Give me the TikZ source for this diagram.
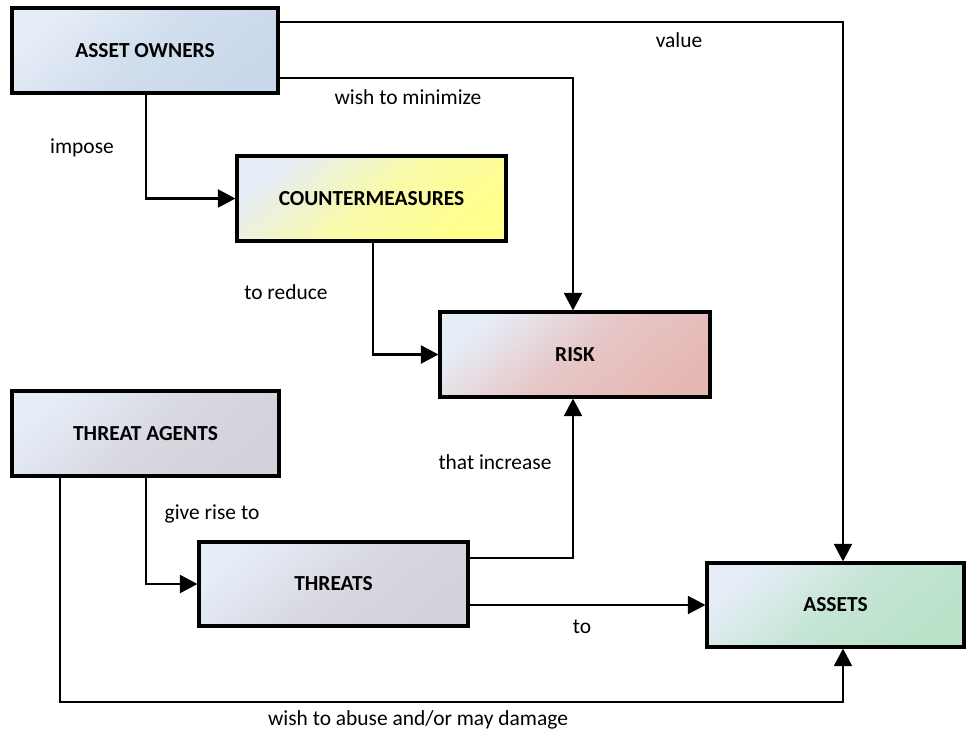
\documentclass[tikz,border=0pt]{standalone}
\usepackage{fontspec}
\setmainfont{Carlito}
\usetikzlibrary{arrows.meta}
\definecolor{tl}{HTML}{E6EDF7}
\definecolor{aoC}{HTML}{C9D8EA}
\definecolor{cmC}{HTML}{FFFF8C}
\definecolor{rkC}{HTML}{E6B8B4}
\definecolor{taC}{HTML}{D3D1DA}
\definecolor{asC}{HTML}{B9E2C8}
\tikzset{
  box/.style={draw=black, line width=1.8pt, minimum height=1.7cm, font=\fontsize{12.2}{14}\selectfont\bfseries},
  grad/.style={top color=tl, bottom color=#1, middle color=#1!72!tl, shading angle=40},
  lbl/.style={font=\fontsize{12.2}{14}\selectfont, inner sep=0pt},
  arr/.style={line width=1.2pt, -{Triangle[length=0.35cm,width=0.36cm]}}
}
\begin{document}
\begin{tikzpicture}[x=0.02cm,y=-0.02cm]
\useasboundingbox (0,0) rectangle (966,731);
\fill[white] (0,0) rectangle (966,731);
\node[box, grad=aoC, minimum width=5.32cm] (ao) at (145,50.5) {ASSET OWNERS};
\node[box, grad=cmC, minimum width=5.38cm] (cm) at (371.5,198.5) {COUNTERMEASURES};
\node[box, grad=rkC, minimum width=5.4cm] (risk) at (575,354.5) {RISK};
\node[box, grad=taC, minimum width=5.34cm] (ta) at (145.5,433.5) {THREAT AGENTS};
\node[box, grad=taC, minimum width=5.38cm, minimum height=1.68cm] (th) at (333.5,584) {THREATS};
\node[box, grad=asC, minimum width=5.14cm, minimum height=1.68cm] (as) at (835.5,605) {ASSETS};

\draw[arr] ([yshift=-0.32cm]ao.north east) -| ([xshift=0.15cm]as.north);
\draw[arr] ([yshift=0.34cm]ao.south east) -| ([xshift=-0.04cm]risk.north);
\draw[arr] ([xshift=0.02cm]ao.south) |- (cm.west);
\draw[arr] ([xshift=0.03cm]cm.south) |- (risk.west);
\draw[arr] ([xshift=0.01cm]ta.south) |- (th.west);
\draw[arr] ([xshift=-1.71cm]ta.south) |- ([xshift=0.15cm,yshift=-1.06cm]as.south) -- ([xshift=0.15cm]as.south);
\draw[arr] ([yshift=-0.36cm]th.north east) -| ([xshift=-0.04cm]risk.south);
\draw[arr] (th.east |- as.west) -- (as.west);

\node[lbl] (l1) at (679,40) {value};
\node[lbl] (l2) at (408,97) {wish to minimize};
\node[lbl] (l3) at (82,148) {impose};
\node[lbl] (l4) at (286,292) {to reduce};
\node[lbl] (l5) at (495,462) {that increase};
\node[lbl] (l6) at (212,514) {give rise to};
\node[lbl] (l7) at (582,627) {to};
\node[lbl] (l8) at (418,720) {wish to abuse and/or may damage};
\end{tikzpicture}
\end{document}
